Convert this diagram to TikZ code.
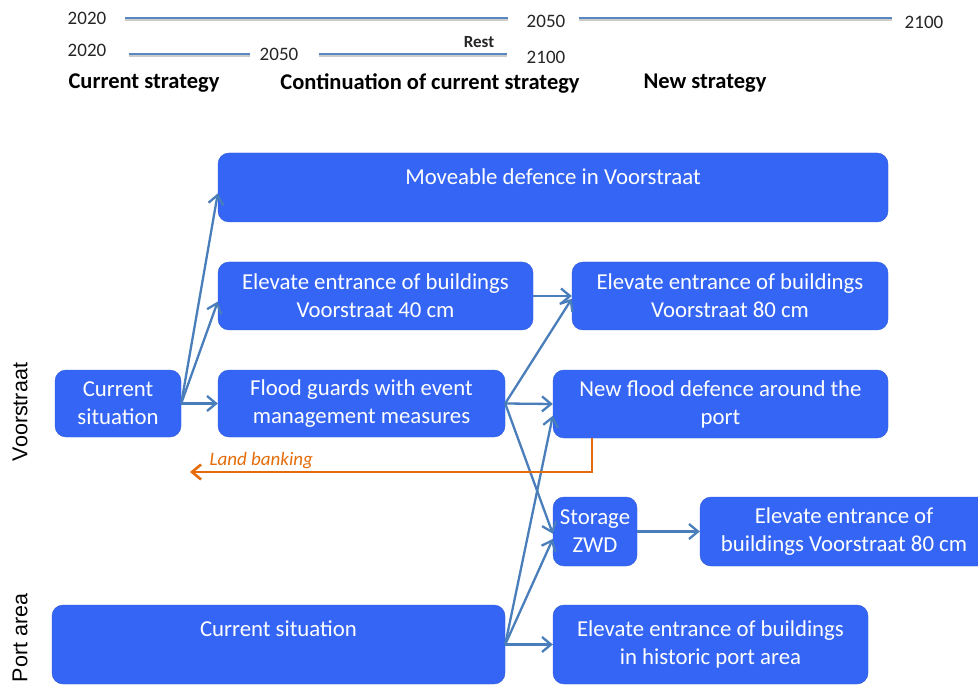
\documentclass[tikz,border=0pt]{standalone}
\usepackage{fontspec}
\setmainfont{Carlito}
\newfontfamily\arialfont{Liberation Sans}
\usetikzlibrary{arrows.meta}
\definecolor{BoxBlue}{HTML}{3465F5}
\definecolor{BoxEdge}{HTML}{2D58D6}
\definecolor{LinkBlue}{HTML}{4A7EBB}
\definecolor{SpanBlue}{HTML}{5B87C0}
\definecolor{BankOrange}{HTML}{E46C0A}

\begin{document}
\begin{tikzpicture}[
	x=1pt, y=-1pt,
	box/.style={draw=BoxEdge, fill=BoxBlue, rounded corners=11pt, text=white, align=center, inner sep=0pt, font=\fontsize{22.8}{28}\selectfont},
	link/.style={-{Straight Barb[length=9pt,width=15pt]}, LinkBlue, line width=2.3pt},
	bank/.style={-{Straight Barb[length=9pt,width=15pt]}, BankOrange, line width=2.6pt},
	yr/.style={font=\fontsize{19}{22}\selectfont, text=black!85},
	phase/.style={font=\bfseries\fontsize{22.5}{25}\selectfont},
	span/.style={SpanBlue, line width=2.4pt, preaction={draw=black!20, line width=2.4pt, transform canvas={yshift=-2pt}}},
	side/.style={rotate=90, font=\arialfont\fontsize{21.5}{24}\selectfont}
]
\useasboundingbox[fill=white] (0,0) rectangle (978,687);

% time lines
\node[yr] (a0) at (87,18) {2020};
\node[yr] (a1) at (546,21) {2050};
\node[yr] (a2) at (924,22) {2100};
\node[yr] (b0) at (87,50) {2020};
\node[yr] (b1) at (279,54) {2050};
\node[yr] (b2) at (546,57) {2100};
\node[yr, font=\bfseries\fontsize{17}{20}\selectfont] (rest) at (479,42) {Rest};
\draw[span, shorten <=15pt, shorten >=15pt] (a0.east) -- (a0.east -| a1.west);
\draw[span, shorten <=10pt, shorten >=9pt] (a0.east -| a1.east) -- (a0.east -| a2.west);
\draw[span, shorten <=19pt, shorten >=6pt] (b1 -| b0.east) -- (b1.west);
\draw[span, shorten <=17pt, shorten >=16pt] (b1.east) -- (b1.east -| b2.west);
\node[phase] (cur) at (144,83) {Current strategy};
\node[phase] (cont) at (430,83) {Continuation of current strategy};
\node[phase] (new) at (705,83) {New strategy};

% measures
\node[side] (voor) at (20,412) {Voorstraat};
\node[side] (porta) at (20,638) {Port area};
\node[box, minimum width=670pt, minimum height=69pt, text depth=21pt] (move) at (553,187.5) {Moveable defence in Voorstraat};
\node[box, minimum width=315pt, minimum height=68pt] (e40) at (375.5,296) {Elevate entrance of buildings\\Voorstraat 40 cm};
\node[box, minimum width=316pt, minimum height=68pt] (e80) at (730,296) {Elevate entrance of buildings\\Voorstraat 80 cm};
\node[box, minimum width=126pt, minimum height=67pt] (curV) at (118,403.5) {Current\\situation};
\node[box, minimum width=287pt, minimum height=67pt] (flood) at (361.5,403.5) {Flood guards with event\\management measures};
\node[box, minimum width=335pt, minimum height=68pt] (newfd) at (720.5,404) {New flood defence around the\\port};
\node[box, minimum width=84pt, minimum height=69pt] (store) at (595,531.5) {Storage\\ZWD};
\node[box, minimum width=288pt, minimum height=69pt] (e80b) at (844,531.5) {Elevate entrance of\\buildings Voorstraat 80 cm};
\node[box, minimum width=453pt, minimum height=79pt, text depth=31pt] (curP) at (278.5,644.5) {Current situation};
\node[box, minimum width=315pt, minimum height=79pt] (hist) at (710.5,644.5) {Elevate entrance of buildings\\in historic port area};

\draw[link] (curV.east) -- (move.181);
\draw[link] (curV.east) -- (e40.182);
\draw[link] (curV.east) -- (flood.west);
\draw[link] (e40.east) -- (e80.west);
\draw[link] (flood.east) -- (e80.181);
\draw[link] (flood.east) -- (newfd.west);
\draw[link] (flood.east) -- (store.183);
\draw[link] (curP.east) -- (newfd.184);
\draw[link] (curP.east) -- (store.190);
\draw[link] (curP.east) -- (hist.west);
\draw[link] (store.east) -- (e80b.west);

% land banking
\coordinate (bankend) at (190,472);
\draw[bank] (newfd.south west) ++(39,0) |- (bankend);
\node[anchor=west, text=BankOrange, font=\itshape\fontsize{19}{22}\selectfont] (banktxt) at (206,461) {Land banking};
\end{tikzpicture}
\end{document}
